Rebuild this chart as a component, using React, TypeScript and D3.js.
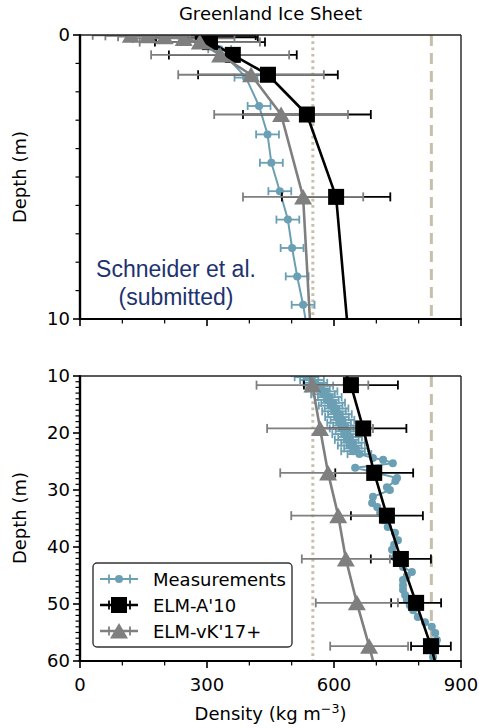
import React from 'react';
import * as d3 from 'd3';

// ---------- DATA ----------
const xMajorTicks = [0, 300, 600, 900];
const xMinorTicks = [100, 200, 400, 500, 700, 800];
const topYMajor = [0, 10];
const topYMinor = [1, 2, 3, 4, 5, 6, 7, 8, 9];
const botYMajor = [10, 20, 30, 40, 50, 60];
const botYMinor = d3.range(11, 60).filter((v) => v % 10 !== 0);

const refDotted = 550;
const refDashed = 830;

// Measurements (depth m, density kg m-3, error)
const measDepth = [
  0.5, 1.5, 2.5, 3.5, 4.5, 5.5, 6.5, 7.5, 8.5, 9.5,
  10.2, 10.7, 11.2, 11.7, 12.2, 12.7, 13.2, 13.7, 14.2, 14.7, 15.2, 15.7, 16.2, 16.7,
  17.2, 17.7, 18.2, 18.7, 19.2, 19.7, 20.2, 20.7, 21.2, 21.7, 22.2, 22.7, 23.2, 23.7,
  24.4, 24.7, 25.3, 26.1, 27.9, 28.4, 29.5, 30.0, 31.2, 32.3, 33.0, 34.0, 35.3, 36.5,
  37.5, 38.8, 39.6, 40.5, 41.8, 42.6, 43.5, 44.4, 45.1, 45.8, 46.7, 47.5, 48.4, 49.3,
  50.2, 51.1, 52.3, 53.2, 54.0, 55.1, 56.3, 57.2, 58.1, 59.3,
];
const measDensity = [
  330, 392, 423, 443, 452, 472, 491, 501, 513, 527,
  535, 548, 556, 570, 562, 580, 574, 590, 583, 598, 592, 606, 600, 614,
  607, 620, 612, 626, 618, 632, 624, 638, 630, 645, 637, 652, 645, 660,
  692, 716, 739, 650, 749, 745, 725, 732, 692, 690, 702, 709, 716, 727,
  744, 751, 742, 737, 744, 753, 763, 784, 772, 763, 763, 763, 768, 772,
  779, 787, 798, 815, 831, 839, 843, 841, 839, 834,
];
const measErr = [
  27, 27, 27, 27, 27, 27, 27, 27, 27, 27,
  28, 28, 28, 28, 28, 28, 28, 28, 28, 28, 28, 28, 28, 28,
  28, 28, 28, 28, 28, 28, 28, 28, 28, 28, 28, 28, 28, 28,
  0, 0, 0, 0, 0, 0, 0, 0, 0, 0, 0, 0, 0, 0,
  0, 0, 0, 0, 0, 0, 0, 0, 0, 0, 0, 0, 0, 0,
  0, 0, 0, 0, 0, 0, 0, 0, 0, 0,
];

// ELM-A'10
const elmA10Depth = [0.02, 0.08, 0.25, 0.7, 1.4, 2.8, 5.7, 11.6, 19.2, 27.0, 34.5, 42.1, 49.8, 57.4, 65.5];
const elmA10Density = [290, 300, 307, 361, 444, 536, 605, 640, 669, 695, 725, 758, 794, 829, 858];
const elmA10Err = [125, 120, 130, 151, 165, 151, 128, 111, 102, 92, 85, 71, 59, 47, 35];

// ELM-vK'17+
const elmVK17Depth = [0.01, 0.03, 0.06, 0.12, 0.25, 0.7, 1.4, 2.8, 5.7, 11.6, 19.2, 27.0, 34.5, 42.1, 49.8, 57.4, 65.5];
const elmVK17Density = [120, 160, 200, 245, 283, 331, 404, 475, 527, 549, 567, 586, 610, 628, 654, 683, 712];
const elmVK17Err = [90, 100, 110, 120, 142, 163, 172, 158, 142, 132, 125, 113, 111, 104, 97, 92, 88];

const legendLabels = ['Measurements', "ELM-A'10", "ELM-vK'17+"];

// ---------- STYLE ----------
const BLUE = '#6b9fb4';
const BLACK = '#000000';
const GRAY = '#7f7f7f';
const REF = '#c6bfab';
const FONT = 'DejaVu Sans, sans-serif';

const W = 479;
const H = 728;

const x = d3.scaleLinear().domain([0, 900]).range([80, 461]);

type Pt = { d: number; v: number; e: number };
const zip = (ds: number[], vs: number[], es: number[]): Pt[] =>
  ds.map((d, i) => ({ d, v: vs[i], e: es[i] }));

const meas = zip(measDepth, measDensity, measErr);
const elmA = zip(elmA10Depth, elmA10Density, elmA10Err);
const elmV = zip(elmVK17Depth, elmVK17Density, elmVK17Err);

function ErrBars({ pts, y, color, cap, lw }: { pts: Pt[]; y: d3.ScaleLinear<number, number>; color: string; cap: number; lw: number }) {
  return (
    <g stroke={color} strokeWidth={lw} fill="none">
      {pts.filter((p) => p.e > 0).map((p, i) => {
        const yy = y(p.d);
        const x0 = x(p.v - p.e);
        const x1 = x(p.v + p.e);
        return (
          <g key={i}>
            <line x1={x0} x2={x1} y1={yy} y2={yy} />
            <line x1={x0} x2={x0} y1={yy - cap / 2} y2={yy + cap / 2} />
            <line x1={x1} x2={x1} y1={yy - cap / 2} y2={yy + cap / 2} />
          </g>
        );
      })}
    </g>
  );
}

function Series({ pts, y, color, lw, marker }: { pts: Pt[]; y: d3.ScaleLinear<number, number>; color: string; lw: number; marker: 'o' | 's' | '^' }) {
  const line = d3.line<Pt>().x((p) => x(p.v)).y((p) => y(p.d));
  return (
    <g>
      <path d={line(pts) || ''} fill="none" stroke={color} strokeWidth={lw} strokeLinejoin="round" />
      {pts.map((p, i) => {
        const cx = x(p.v);
        const cy = y(p.d);
        if (marker === 'o') return <circle key={i} cx={cx} cy={cy} r={4} fill={color} />;
        if (marker === 's') return <rect key={i} x={cx - 8} y={cy - 8} width={16} height={16} fill={color} />;
        return <path key={i} d={`M${cx},${cy - 8}L${cx - 9},${cy + 7.5}L${cx + 9},${cy + 7.5}Z`} fill={color} />;
      })}
    </g>
  );
}

function Panel({ id, y, yMajor, yMinor, showXLabels }: { id: string; y: d3.ScaleLinear<number, number>; yMajor: number[]; yMinor: number[]; showXLabels: boolean }) {
  const [y0, y1] = y.range();
  const left = x.range()[0];
  const right = x.range()[1];
  return (
    <g>
      <defs>
        <clipPath id={id}>
          <rect x={left} y={y0} width={right - left} height={y1 - y0} />
        </clipPath>
      </defs>
      <g clipPath={`url(#${id})`}>
        <line x1={x(refDotted)} x2={x(refDotted)} y1={y0} y2={y1} stroke={REF} strokeWidth={3} strokeDasharray="2.7 3.6" />
        <line x1={x(refDashed)} x2={x(refDashed)} y1={y0} y2={y1} stroke={REF} strokeWidth={3} strokeDasharray="11 7" />
        <ErrBars pts={meas} y={y} color={BLUE} cap={8} lw={1.8} />
        <Series pts={meas} y={y} color={BLUE} lw={2} marker="o" />
        <ErrBars pts={elmA} y={y} color={BLACK} cap={9} lw={1.8} />
        <ErrBars pts={elmV} y={y} color={GRAY} cap={9} lw={1.8} />
        <Series pts={elmA} y={y} color={BLACK} lw={2.6} marker="s" />
        <Series pts={elmV} y={y} color={GRAY} lw={2.6} marker="^" />
      </g>
      {/* spines */}
      <line x1={left} x2={right} y1={y0} y2={y0} stroke="#222" strokeWidth={1.4} />
      <line x1={right} x2={right} y1={y0} y2={y1} stroke="#222" strokeWidth={1.4} />
      <line x1={left} x2={left} y1={y0 - 0.7} y2={y1 + 1} stroke="#000" strokeWidth={2.4} />
      <line x1={left - 1.2} x2={right + 0.7} y1={y1} y2={y1} stroke="#000" strokeWidth={2.2} />
      {/* y ticks */}
      {yMajor.map((t) => (
        <g key={`ym${t}`}>
          <line x1={left - 7} x2={left} y1={y(t)} y2={y(t)} stroke="#000" strokeWidth={1.6} />
          <text x={left - 10} y={y(t)} dy="0.36em" textAnchor="end" fontSize={18} fontFamily={FONT} fill="#000">{t}</text>
        </g>
      ))}
      {yMinor.map((t) => (
        <line key={`yn${t}`} x1={left - 4.5} x2={left} y1={y(t)} y2={y(t)} stroke="#000" strokeWidth={1.2} />
      ))}
      {/* x ticks */}
      {xMajorTicks.map((t) => (
        <g key={`xm${t}`}>
          <line x1={x(t)} x2={x(t)} y1={y1} y2={y1 + 7} stroke="#000" strokeWidth={1.6} />
          {showXLabels && (
            <text x={x(t)} y={y1 + 30} textAnchor="middle" fontSize={18} fontFamily={FONT} fill="#000">{t}</text>
          )}
        </g>
      ))}
      {xMinorTicks.map((t) => (
        <line key={`xn${t}`} x1={x(t)} x2={x(t)} y1={y1} y2={y1 + 4.5} stroke="#000" strokeWidth={1.2} />
      ))}
    </g>
  );
}

export default function App() {
  const yTop = d3.scaleLinear().domain([0, 10]).range([35, 319]);
  const yBot = d3.scaleLinear().domain([10, 60]).range([376, 661]);

  const legX = 93;
  const legY = 563;
  const rowY = [579, 605, 631];
  const hx0 = 100;
  const hx1 = 138;
  const hmid = 119;
  const legendColors = [BLUE, BLACK, GRAY];

  return (
    <svg width={W} height={H} viewBox={`0 0 ${W} ${H}`} style={{ position: 'absolute', left: 0, top: 0, background: '#fff' }}>
      <rect x={0} y={0} width={W} height={H} fill="#fff" />
      <text x={270.5} y={20} textAnchor="middle" fontSize={18} fontFamily={FONT} fill="#000">Greenland Ice Sheet</text>

      <Panel id="clipTop" y={yTop} yMajor={topYMajor} yMinor={topYMinor} showXLabels={false} />
      <Panel id="clipBot" y={yBot} yMajor={botYMajor} yMinor={botYMinor} showXLabels={true} />

      <text fontSize={23} fontFamily="Liberation Sans, Arial, sans-serif" fill="#1c3370" textAnchor="middle">
        <tspan x={176} y={277}>Schneider et al.</tspan>
        <tspan x={176} y={305}>(submitted)</tspan>
      </text>

      <text transform={`translate(26,177) rotate(-90)`} textAnchor="middle" fontSize={18} fontFamily={FONT} fill="#000">Depth (m)</text>
      <text transform={`translate(26,518) rotate(-90)`} textAnchor="middle" fontSize={18} fontFamily={FONT} fill="#000">Depth (m)</text>

      <text x={270.5} y={720} textAnchor="middle" fontSize={18} fontFamily={FONT} fill="#000">
        Density (kg m<tspan dy={-7} fontSize={12.6}>−3</tspan><tspan dy={7}>)</tspan>
      </text>

      {/* legend */}
      <rect x={legX} y={legY} width={199} height={84} rx={4} fill="#fff" fillOpacity={0.9} stroke="#333" strokeWidth={1.4} />
      {legendLabels.map((lab, i) => {
        const c = legendColors[i];
        const yy = rowY[i];
        return (
          <g key={lab}>
            <line x1={hx0} x2={hx1} y1={yy} y2={yy} stroke={c} strokeWidth={i === 0 ? 2 : 2.6} />
            <line x1={109} x2={109} y1={yy - 4.5} y2={yy + 4.5} stroke={c} strokeWidth={1.8} />
            <line x1={130} x2={130} y1={yy - 4.5} y2={yy + 4.5} stroke={c} strokeWidth={1.8} />
            {i === 0 && <circle cx={hmid} cy={yy} r={4} fill={c} />}
            {i === 1 && <rect x={hmid - 8} y={yy - 8} width={16} height={16} fill={c} />}
            {i === 2 && <path d={`M${hmid},${yy - 8}L${hmid - 9},${yy + 7.5}L${hmid + 9},${yy + 7.5}Z`} fill={c} />}
            <text x={153} y={yy + 6.5} fontSize={18} fontFamily={FONT} fill="#000">{lab}</text>
          </g>
        );
      })}
    </svg>
  );
}
